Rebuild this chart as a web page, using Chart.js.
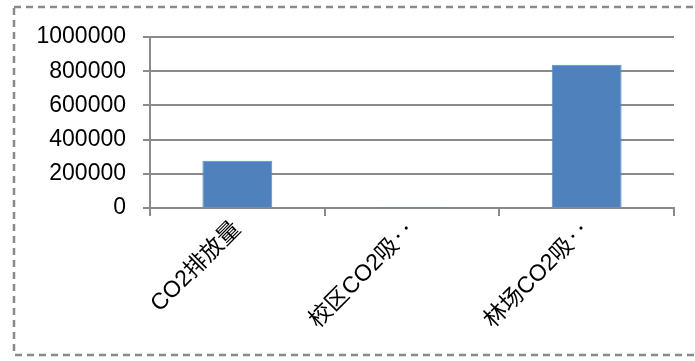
<!DOCTYPE html>
<html lang="zh">
<head>
    <meta charset="UTF-8">
    <title>CO2</title>
    <script src="https://cdn.jsdelivr.net/npm/chart.js"></script>
    <style>
        body { margin: 0; background: #fff; }
        #chart { position: absolute; left: 0; top: 0; }
    </style>
</head>
<body>
    <canvas id="chart" width="695" height="361"></canvas>

    <script>
        const categories = ['CO2排放量', '校区CO2吸收量', '林场CO2吸收量'];
        const values = [277000, 2000, 838000];
        const yTicks = [0, 200000, 400000, 600000, 800000, 1000000];

        const font = { family: '"Liberation Sans", "Noto Sans CJK SC", sans-serif', size: 23 };
        const lineGray = '#8a8a8a';

        // dashed frame around the whole chart (right side runs off the picture)
        const frame = {
            id: 'frame',
            beforeDraw(chart) {
                const c = chart.ctx;
                c.save();
                c.strokeStyle = '#8a8a8a';
                c.lineWidth = 2.5;
                c.setLineDash([7, 5]);
                c.strokeRect(14, 7, 700, 348);
                c.restore();
            }
        };

        new Chart(document.getElementById('chart'), {
            type: 'bar',
            data: {
                labels: categories,
                datasets: [{
                    data: values,
                    backgroundColor: '#4f81bd',
                    borderColor: '#5a8bc4',
                    borderWidth: 1,
                    barPercentage: 0.4,
                    categoryPercentage: 1
                }]
            },
            options: {
                responsive: false,
                animation: false,
                layout: { padding: { top: 37, right: 21, left: 0, bottom: 0 } },
                plugins: { legend: { display: false }, tooltip: { enabled: false } },
                scales: {
                    x: {
                        afterFit: s => { s.height = 153; },
                        grid: { drawOnChartArea: false, color: lineGray, lineWidth: 2, tickLength: 8, offset: true },
                        border: { color: lineGray, width: 2 },
                        ticks: {
                            color: '#000', font: font, minRotation: 45, maxRotation: 45, padding: 0,
                            // long names are cut off like in the original sheet
                            callback: function (v) {
                                const t = this.getLabelForValue(v);
                                return t.length > 7 ? t.slice(0, 6) + '‥' : t;
                            }
                        }
                    },
                    y: {
                        min: 0, max: 1000000,
                        afterFit: s => { s.width = 150; },
                        afterBuildTicks: s => { s.ticks = yTicks.map(v => ({ value: v })); },
                        grid: { color: lineGray, lineWidth: 2, tickLength: 7 },
                        border: { color: lineGray, width: 2 },
                        ticks: { color: '#000', font: font, padding: 17, callback: v => String(v) }
                    }
                }
            },
            plugins: [frame]
        });
    </script>
</body>
</html>
